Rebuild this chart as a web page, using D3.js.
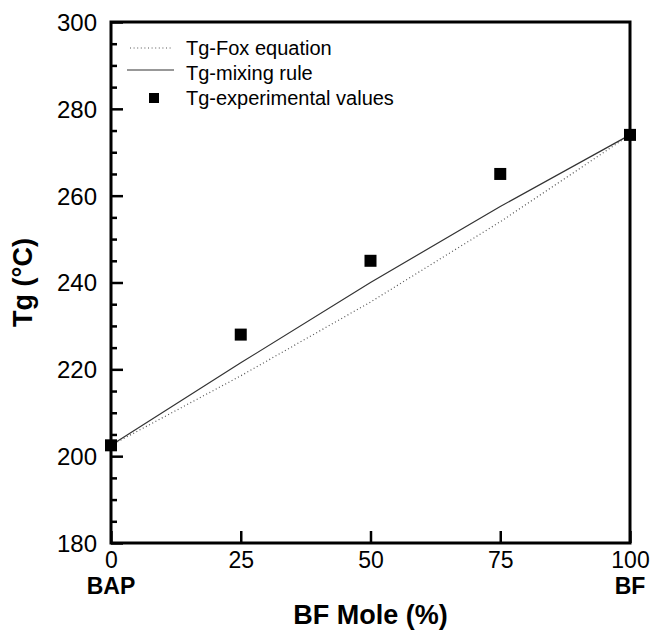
<!DOCTYPE html>
<html>
<head>
<meta charset="utf-8">
<script src="https://cdn.jsdelivr.net/npm/d3@7"></script>
<style>
  body { margin: 0; background: white; }
  svg text { font-family: "Liberation Sans", Arial, sans-serif; fill: black; }
</style>
</head>
<body>
<svg id="chart" width="651" height="632"></svg>
<script>
// donnees
const bfMole = [0, 25, 50, 75, 100];
const tgExp = [202.5, 228, 245, 265, 274];
const tgFox = [202.5, 218.5, 235.5, 254, 274];
const tgMix = [202.5, 221.5, 240, 257.5, 274];

const xTicks = [0, 25, 50, 75, 100];
const yTicks = [180, 200, 220, 240, 260, 280, 300];
const endLabels = ["BAP", "BF"];
const legendLabels = ["Tg-Fox equation", "Tg-mixing rule", "Tg-experimental values"];

const svg = d3.select("#chart");
// attention: "top" est deja pris par window.top
const mLeft = 111, mRight = 630, mTop = 22, mBottom = 543;

const x = d3.scaleLinear().domain([0, 100]).range([mLeft, mRight]);
const y = d3.scaleLinear().domain([180, 300]).range([mBottom, mTop]);

// petites graduations tous les 5 sur l'axe y (vers l'interieur)
const minorY = d3.range(185, 300, 5).filter(v => yTicks.indexOf(v) < 0);
svg.append("g")
  .attr("transform", `translate(${mLeft},0)`)
  .call(d3.axisRight(y).tickValues(minorY).tickSize(6).tickFormat(""))
  .call(g => g.select(".domain").remove())
  .call(g => g.selectAll("line").attr("stroke", "black").attr("stroke-width", 2.5));

// grandes graduations y
const yAxis = svg.append("g")
  .attr("transform", `translate(${mLeft},0)`)
  .call(d3.axisRight(y).tickValues(yTicks).tickSize(12).tickFormat(d3.format("d")));
yAxis.select(".domain").remove();
yAxis.selectAll("line").attr("stroke", "black").attr("stroke-width", 2.5);
yAxis.selectAll("text")
  .attr("x", -14)
  .attr("dy", "0.35em")
  .attr("text-anchor", "end")
  .style("font-size", "24px");

// axe x
const xAxis = svg.append("g")
  .attr("transform", `translate(0,${mBottom})`)
  .call(d3.axisTop(x).tickValues(xTicks).tickSize(12).tickFormat(d3.format("d")));
xAxis.select(".domain").remove();
xAxis.selectAll("line").attr("stroke", "black").attr("stroke-width", 2.5);
xAxis.selectAll("text")
  .attr("y", 25)
  .attr("dy", 0)
  .attr("text-anchor", "middle")
  .style("font-size", "23px");

// BAP / BF sous 0 et 100
svg.selectAll("text.endlab")
  .data(endLabels)
  .enter().append("text")
  .attr("class", "endlab")
  .attr("x", (d, i) => x(i * 100))
  .attr("y", 594)
  .attr("text-anchor", "middle")
  .style("font-size", "23px")
  .style("font-weight", "bold")
  .text(d => d);

// cadre
svg.append("rect")
  .attr("x", mLeft).attr("y", mTop)
  .attr("width", mRight - mLeft).attr("height", mBottom - mTop)
  .attr("fill", "none")
  .attr("stroke", "black")
  .attr("stroke-width", 3);

// courbes
const line = d3.line().x((d, i) => x(bfMole[i])).y(d => y(d));

svg.append("path")
  .datum(tgFox)
  .attr("d", line)
  .attr("fill", "none")
  .attr("stroke", "#555")
  .attr("stroke-width", 1.2)
  .attr("stroke-dasharray", "1,2.6");

svg.append("path")
  .datum(tgMix)
  .attr("d", line)
  .attr("fill", "none")
  .attr("stroke", "#333")
  .attr("stroke-width", 1.2);

// points experimentaux
const sq = 12;
svg.selectAll("rect.pt")
  .data(tgExp)
  .enter().append("rect")
  .attr("class", "pt")
  .attr("x", (d, i) => x(bfMole[i]) - sq / 2)
  .attr("y", d => y(d) - sq / 2)
  .attr("width", sq)
  .attr("height", sq)
  .attr("fill", "black");

// legende
const leg = svg.append("g");
const rowY = [48, 73, 98];
leg.append("line")
  .attr("x1", 130).attr("x2", 172).attr("y1", rowY[0]).attr("y2", rowY[0])
  .attr("stroke", "#555").attr("stroke-width", 1.2).attr("stroke-dasharray", "1,2.6");
leg.append("line")
  .attr("x1", 127).attr("x2", 174).attr("y1", rowY[1] - 3).attr("y2", rowY[1] - 3)
  .attr("stroke", "#333").attr("stroke-width", 1.2);
leg.append("rect")
  .attr("x", 149).attr("y", rowY[2] - 5).attr("width", 10).attr("height", 10)
  .attr("fill", "black");
leg.selectAll("text")
  .data(legendLabels)
  .enter().append("text")
  .attr("x", 186)
  .attr("y", (d, i) => rowY[i])
  .attr("dy", "0.35em")
  .style("font-size", "20px")
  .text(d => d);

// titres des axes
svg.append("text")
  .attr("x", (mLeft + mRight) / 2)
  .attr("y", 624)
  .attr("text-anchor", "middle")
  .style("font-size", "27px")
  .style("font-weight", "bold")
  .text("BF Mole (%)");

svg.append("text")
  .attr("transform", `translate(32,${(mTop + mBottom) / 2}) rotate(-90)`)
  .attr("text-anchor", "middle")
  .style("font-size", "27px")
  .style("font-weight", "bold")
  .text("Tg (°C)");
</script>
</body>
</html>
